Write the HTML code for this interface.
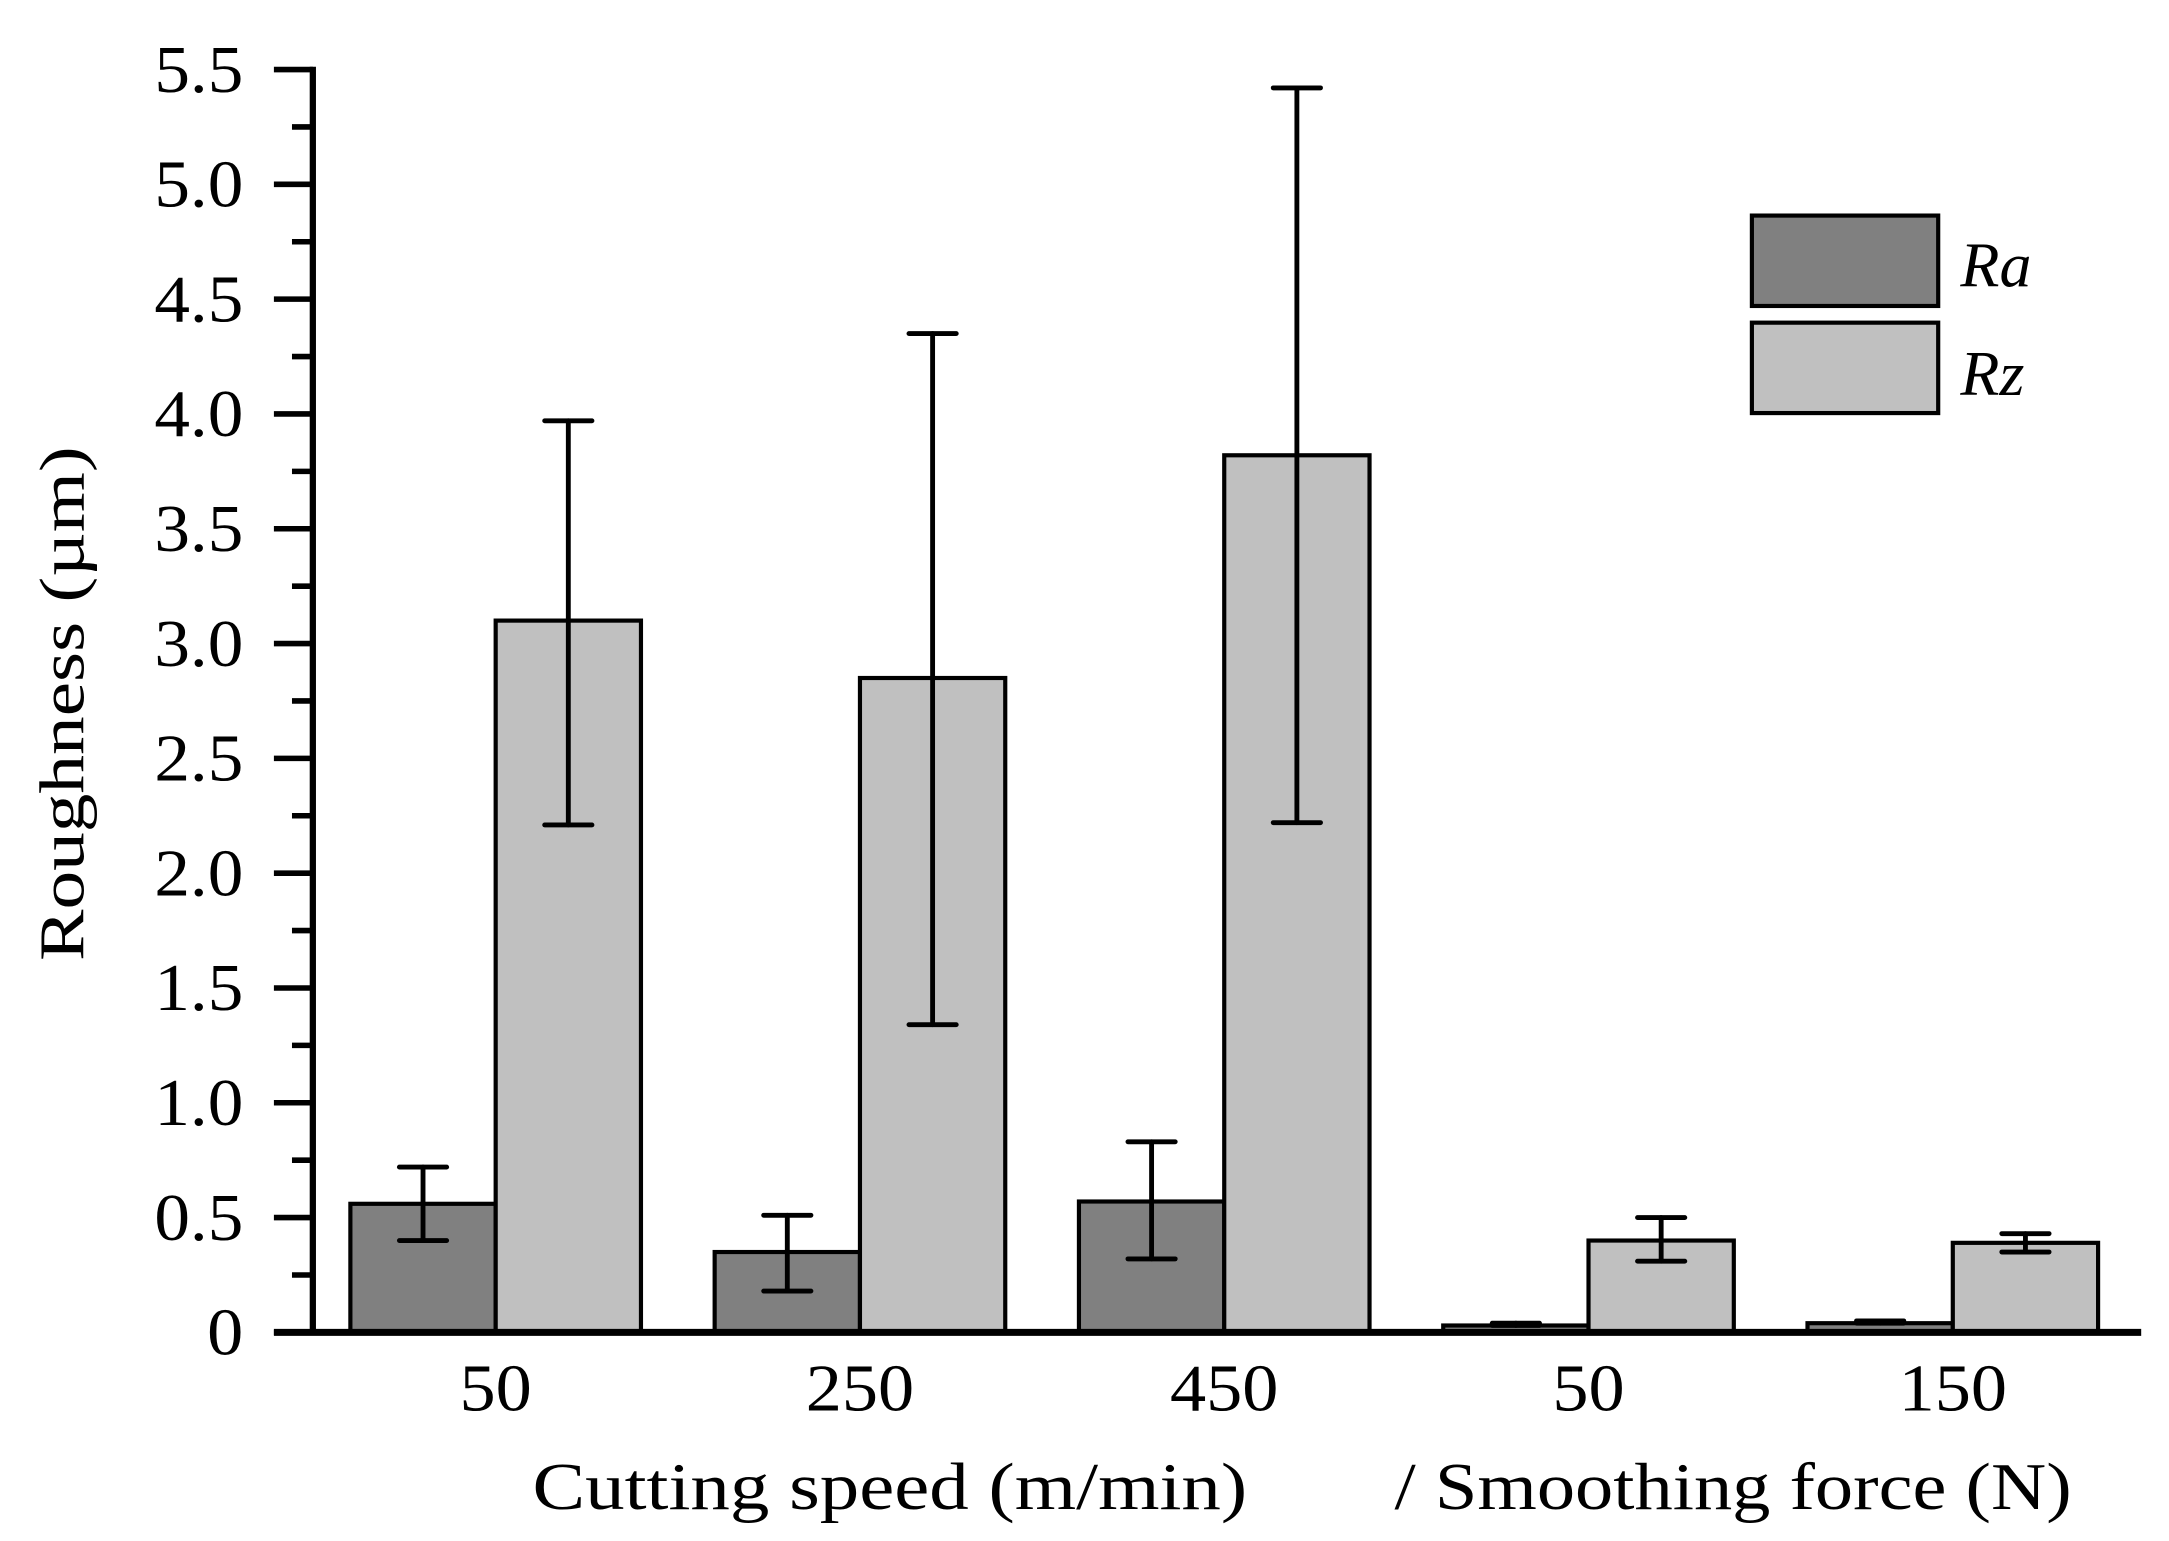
<!DOCTYPE html>
<html><head><meta charset="utf-8"><style>
html,body{margin:0;padding:0;background:#fff}
svg{display:block}
text{font-family:"Liberation Serif",serif;fill:#000}
</style></head><body>
<svg id="chart" width="2169" height="1541" viewBox="0 0 1560 1108" preserveAspectRatio="none" xmlns="http://www.w3.org/2000/svg">
<g id="bars"></g><g id="axes"></g>
<g>
<rect x="1260" y="155" width="134" height="65" fill="#808080" stroke="#000" stroke-width="3"/>
<text x="1410" y="206" font-size="46" font-style="italic">Ra</text>
<rect x="1260" y="232" width="134" height="65" fill="#c0c0c0" stroke="#000" stroke-width="3"/>
<text x="1410" y="284" font-size="46" font-style="italic">Rz</text>
</g>
<text transform="translate(60,506) rotate(-90)" text-anchor="middle" font-size="46" textLength="370" lengthAdjust="spacingAndGlyphs">Roughness (µm)</text>
<text x="383" y="1085" font-size="48" textLength="514" lengthAdjust="spacingAndGlyphs">Cutting speed (m/min)</text>
<text x="1003" y="1085" font-size="48" textLength="487" lengthAdjust="spacingAndGlyphs">/ Smoothing force (N)</text>
</svg>
<script>
const categories=["50","250","450","50","150"];
const raValues=[0.56,0.35,0.57,0.03,0.04];
const rzValues=[3.10,2.85,3.82,0.40,0.39];
const raUpper=[0.72,0.51,0.83,0.04,0.05];
const raLower=[0.40,0.18,0.32,0.03,0.04];
const rzUpper=[3.97,4.35,5.42,0.50,0.43];
const rzLower=[2.21,1.34,2.22,0.31,0.35];
const yTicks=["0","0.5","1.0","1.5","2.0","2.5","3.0","3.5","4.0","4.5","5.0","5.5"];
const NS="http://www.w3.org/2000/svg";
const y0=958,yTop=50,yMax=5.5;
function yS(v){return y0-(v/yMax)*(y0-yTop);}
function xG(i){return 252+i*262;}
const bw=104.5;
function mk(tag,attrs,parent){const e=document.createElementNS(NS,tag);for(const k in attrs)e.setAttribute(k,attrs[k]);parent.appendChild(e);return e;}
const bars=document.getElementById('bars'),axes=document.getElementById('axes');
categories.forEach((c,i)=>{
  [[raValues,raUpper,raLower,'#808080','ra'],[rzValues,rzUpper,rzLower,'#c0c0c0','rz']].forEach((s,j)=>{
    const x=xG(i)+j*bw;
    const r=mk('rect',{x:x,y:yS(s[0][i]),width:bw,height:y0-yS(s[0][i]),fill:s[3],stroke:'#000','stroke-width':3},bars);
    
    
    const cx=x+bw/2,yu=yS(s[1][i]),yl=yS(s[2][i]);
    const g=mk('g',{stroke:'#000','stroke-width':3.5,'stroke-linecap':'round'},bars);
    
    
    mk('line',{x1:cx,x2:cx,y1:yu,y2:yl},g);
    mk('line',{x1:cx-17,x2:cx+17,y1:yu,y2:yu},g);
    mk('line',{x1:cx-17,x2:cx+17,y1:yl,y2:yl},g);
  });
  const t=mk('text',{x:xG(i)+bw,y:1014,'text-anchor':'middle','font-size':48,textLength:c.length*26,lengthAdjust:'spacingAndGlyphs'},axes);
  t.textContent=c;
  
  
});
yTicks.forEach((lbl,k)=>{
  const v=k*0.5,y=yS(v);
  mk('line',{x1:197,x2:225,y1:y,y2:y,stroke:'#000','stroke-width':4},axes);
  if(k < yTicks.length-1){const ym=yS(v+0.25);mk('line',{x1:210,x2:225,y1:ym,y2:ym,stroke:'#000','stroke-width':4},axes);}
  const t=mk('text',{x:175,y:y+16,'text-anchor':'end','font-size':48,textLength:lbl.length===1?26:64,lengthAdjust:'spacingAndGlyphs'},axes);
  t.textContent=lbl;
  
  
});
const ya=mk('line',{x1:225,x2:225,y1:yTop-2,y2:y0+2,stroke:'#000','stroke-width':4.5},axes);


const xa=mk('line',{x1:197,x2:1540,y1:y0,y2:y0,stroke:'#000','stroke-width':5},axes);


</script>
</body></html>
